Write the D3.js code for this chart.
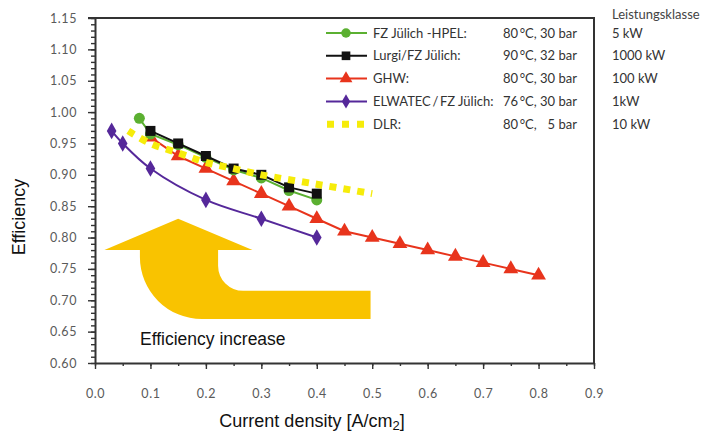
<!DOCTYPE html>
<html>
<head>
<meta charset="utf-8">
<script src="https://cdn.jsdelivr.net/npm/d3@7"></script>
<style>
  body { margin: 0; background: #fff; }
  svg { display: block; }
</style>
</head>
<body>
<div class="chart"></div>
<script>
// current density [A/cm2] and efficiency per system
const hpelX = [0.08, 0.1, 0.15, 0.2, 0.25, 0.3, 0.35, 0.4]
const hpelY = [0.99, 0.965, 0.948, 0.928, 0.908, 0.895, 0.875, 0.86]

const lurgiX = [0.1, 0.15, 0.2, 0.25, 0.3, 0.35, 0.4]
const lurgiY = [0.97, 0.95, 0.93, 0.91, 0.90, 0.88, 0.87]

const ghwX = [0.1, 0.15, 0.2, 0.25, 0.3, 0.35, 0.4, 0.45, 0.5, 0.55, 0.6, 0.65, 0.7, 0.75, 0.8]
const ghwY = [0.96, 0.93, 0.91, 0.89, 0.87, 0.85, 0.83, 0.81, 0.80, 0.79, 0.78, 0.77, 0.76, 0.75, 0.74]

const elwatecX = [0.03, 0.05, 0.1, 0.2, 0.3, 0.4]
const elwatecY = [0.97, 0.95, 0.91, 0.86, 0.83, 0.80]

const dlrX = [0.06, 0.1, 0.15, 0.2, 0.25, 0.3, 0.4, 0.5]
const dlrY = [0.97, 0.95, 0.935, 0.92, 0.91, 0.90, 0.885, 0.87]

const legendNames = ['FZ J\u00fclich -HPEL:', 'Lurgi/FZ J\u00fclich:', 'GHW:', 'ELWATEC\u2009/\u2009FZ J\u00fclich:', 'DLR:']
const legendConditions = ['80\u2009\u00b0C, 30 bar', '90\u2009\u00b0C, 32 bar', '80\u2009\u00b0C, 30 bar', '76\u2009\u00b0C, 30 bar', '80\u2009\u00b0C,\u2007\u00a05 bar']
const legendPower = ['5 kW', '1000 kW', '100 kW', '1kW', '10 kW']

const xTicks = [0, 0.1, 0.2, 0.3, 0.4, 0.5, 0.6, 0.7, 0.8, 0.9]
const yTicks = [0.60, 0.65, 0.70, 0.75, 0.80, 0.85, 0.90, 0.95, 1.00, 1.05, 1.10, 1.15]

const width = 701
const height = 435

const x = d3.scaleLinear().domain([0, 0.9]).range([95, 594])
const y = d3.scaleLinear().domain([0.6, 1.15]).range([363, 18])

const svg = d3.select('.chart')
    .append('svg')
    .attr('width', width)
    .attr('height', height)

const tickFont = 'Lato, "Open Sans", sans-serif'
const titleFont = 'Arial, "Liberation Sans", sans-serif'

// arrow annotation (in data units)
const arrow = { tip: [0.15, 0.83], headL: 0.017, headR: 0.284, base: 0.78,
    shaftL: 0.081, shaftR: 0.222, bandTop: 0.715, bandBot: 0.67, end: 0.497 }
const rIn = 25, rOut = 62
const ap = d3.path()
ap.moveTo(x(arrow.shaftL), y(arrow.base))
ap.lineTo(x(arrow.headL), y(arrow.base))
ap.lineTo(x(arrow.tip[0]), y(arrow.tip[1]))
ap.lineTo(x(arrow.headR), y(arrow.base))
ap.lineTo(x(arrow.shaftR), y(arrow.base))
ap.lineTo(x(arrow.shaftR), y(arrow.bandTop) - rIn)
ap.arcTo(x(arrow.shaftR), y(arrow.bandTop), x(arrow.shaftR) + rIn, y(arrow.bandTop), rIn)
ap.lineTo(x(arrow.end), y(arrow.bandTop))
ap.lineTo(x(arrow.end), y(arrow.bandBot))
ap.lineTo(x(arrow.shaftL) + rOut, y(arrow.bandBot))
ap.arcTo(x(arrow.shaftL), y(arrow.bandBot), x(arrow.shaftL), y(arrow.bandBot) - rOut, rOut)
ap.closePath()

svg.append('path')
    .attr('d', ap.toString())
    .attr('fill', '#f9c300')

svg.append('text')
    .attr('x', 140)
    .attr('y', 345)
    .attr('font-family', titleFont)
    .attr('font-size', 17.5)
    .attr('fill', '#111')
    .text('Efficiency increase')

// axes
const yMinor = svg.append('g')
    .attr('transform', `translate(${x(0)},0)`)
    .call(d3.axisLeft(y).tickValues(d3.range(60, 116).map(v => v / 100)).tickSize(4).tickFormat(''))
yMinor.select('.domain').remove()

const yAxis = svg.append('g')
    .attr('transform', `translate(${x(0)},0)`)
    .call(d3.axisLeft(y).tickValues(yTicks).tickSize(7).tickSizeOuter(0).tickPadding(11).tickFormat(d3.format('.2f')))

const xMinor = svg.append('g')
    .attr('transform', `translate(0,${y(0.6)})`)
    .call(d3.axisBottom(x).tickValues(d3.range(0, 19).map(v => v * 0.05)).tickSize(3).tickFormat(''))
xMinor.select('.domain').remove()

const xAxis = svg.append('g')
    .attr('transform', `translate(0,${y(0.6)})`)
    .call(d3.axisBottom(x).tickValues(xTicks).tickSize(6).tickSizeOuter(0).tickPadding(20).tickFormat(d3.format('.1f')))

svg.selectAll('.tick line').attr('stroke', '#333').attr('stroke-width', 1.4)
svg.selectAll('.domain').attr('stroke', '#333').attr('stroke-width', 2)
svg.selectAll('.tick text')
    .attr('font-family', tickFont)
    .attr('font-size', 12.5)
    .attr('letter-spacing', 0.6)
    .attr('fill', '#5a5a5a')

// frame top and right
svg.append('path')
    .attr('d', `M${x(0) - 7},${y(1.15)}H${x(0.9)}V${y(0.6)}`)
    .attr('fill', 'none')
    .attr('stroke', '#333')
    .attr('stroke-width', 2)

// axis titles
svg.append('text')
    .attr('transform', 'translate(25,217) rotate(-90)')
    .attr('text-anchor', 'middle')
    .attr('font-family', titleFont)
    .attr('font-size', 18)
    .attr('fill', '#111')
    .text('Efficiency')

const xt = svg.append('text')
    .attr('x', 312)
    .attr('y', 427)
    .attr('text-anchor', 'middle')
    .attr('font-family', titleFont)
    .attr('font-size', 18)
    .attr('fill', '#111')
xt.append('tspan').text('Current density [A/cm')
xt.append('tspan').attr('font-size', 13).attr('dy', 3).text('2')
xt.append('tspan').attr('dy', -3).text(']')

// series
const series = [
    { xs: hpelX, ys: hpelY, color: '#5bb031', symbol: d3.symbolCircle, size: 95, curve: d3.curveLinear },
    { xs: lurgiX, ys: lurgiY, color: '#111111', symbol: d3.symbolSquare, size: 100, curve: d3.curveLinear },
    { xs: ghwX, ys: ghwY, color: '#e8341c', symbol: d3.symbolTriangle, size: 95, curve: d3.curveLinear },
    { xs: elwatecX, ys: elwatecY, color: '#55289a', symbol: d3.symbolDiamond, size: 80, curve: d3.curveCatmullRom },
]

const line = d3.line().x(d => x(d[0])).y(d => y(d[1]))

// purple, red, green, black drawn first, DLR on top
const order = [3, 2, 0, 1]
order.forEach(i => {
    const s = series[i]
    const pts = s.xs.map((v, j) => [v, s.ys[j]])
    svg.append('path')
        .datum(pts)
        .attr('d', line.curve(s.curve))
        .attr('fill', 'none')
        .attr('stroke', s.color)
        .attr('stroke-width', 2)
    svg.append('g').selectAll('path')
        .data(pts)
        .join('path')
        .attr('transform', d => `translate(${x(d[0])},${y(d[1])})`)
        .attr('d', d3.symbol(s.symbol, s.size))
        .attr('fill', s.color)
})

svg.append('path')
    .datum(dlrX.map((v, j) => [v, dlrY[j]]))
    .attr('d', line.curve(d3.curveCatmullRom))
    .attr('fill', 'none')
    .attr('stroke', '#f6ec0a')
    .attr('stroke-width', 7)
    .attr('stroke-dasharray', '7 7')

// legend
const legendFont = 'Lato, "Open Sans", sans-serif'
const lg = svg.append('g')
legendNames.forEach((name, i) => {
    const cy = 33 + i * 22.8
    if (i < 4) {
        const s = series[i]
        lg.append('line')
            .attr('x1', 326).attr('x2', 367)
            .attr('y1', cy).attr('y2', cy)
            .attr('stroke', s.color)
            .attr('stroke-width', 2)
        lg.append('path')
            .attr('transform', `translate(346,${cy})`)
            .attr('d', d3.symbol(s.symbol, s.size * 0.75))
            .attr('fill', s.color)
    } else {
        lg.append('line')
            .attr('x1', 327).attr('x2', 366)
            .attr('y1', cy).attr('y2', cy)
            .attr('stroke', '#f6ec0a')
            .attr('stroke-width', 7)
            .attr('stroke-dasharray', '7 8')
    }
    const cols = [[373, name], [503, legendConditions[i]], [612, legendPower[i]]]
    cols.forEach(([cx, label]) => {
        lg.append('text')
            .attr('x', cx).attr('y', cy)
            .attr('dy', '0.35em')
            .attr('font-family', legendFont)
            .attr('font-size', 13)
            .attr('fill', '#333')
            .text(label)
    })
})

lg.append('text')
    .attr('x', 612).attr('y', 14)
    .attr('dy', '0.35em')
    .attr('font-family', legendFont)
    .attr('font-size', 13)
    .attr('fill', '#444')
    .text('Leistungsklasse')
</script>
</body>
</html>
